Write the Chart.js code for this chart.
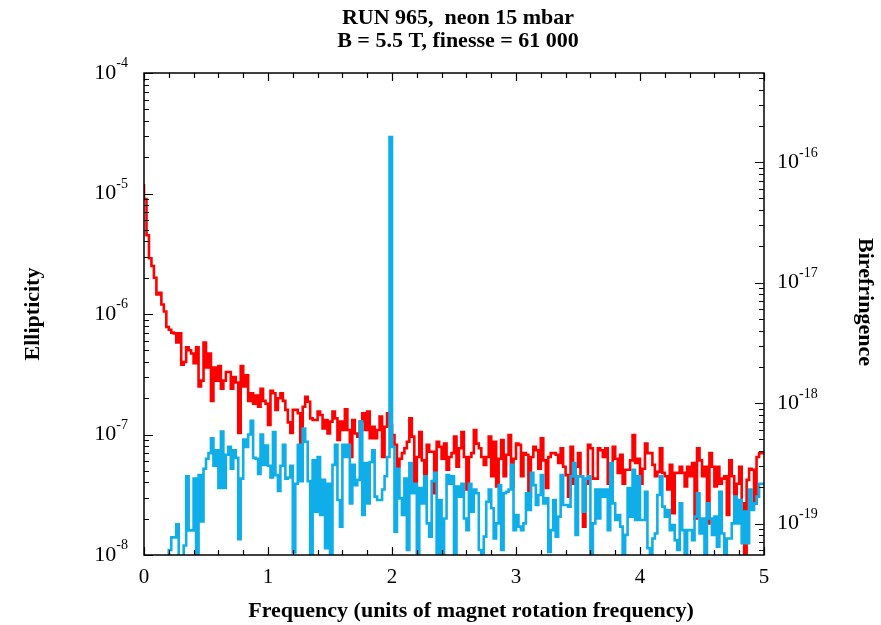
<!DOCTYPE html>
<html>
<head>
<meta charset="utf-8">
<script src="https://cdn.jsdelivr.net/npm/chart.js@4/dist/chart.umd.min.js"></script>
<style>
html,body{margin:0;padding:0;background:#fff;}
#c{display:block;}
</style>
</head>
<body>
<canvas id="c" width="881" height="625"></canvas>
<script>
// ---- data ----
const titleLines = ["RUN 965,  neon 15 mbar", "B = 5.5 T, finesse = 61 000"];
const xTitle = "Frequency (units of magnet rotation frequency)";
const yTitleLeft = "Ellipticity";
const yTitleRight = "Birefringence";
const xTickLabels = ["0", "1", "2", "3", "4", "5"];
const leftExponents = [-8, -7, -6, -5, -4];
const rightExponents = [-19, -18, -17, -16];
const binWidth = 0.02; // frequency resolution (units of rotation frequency)

// red: ellipticity spectrum
const redSpectrum = [
 1.2e-5,9.0e-6,4.5e-6,2.9e-6,2.5e-6,2.0e-6,1.45e-6,1.5e-6,1.2e-6,1.05e-6,
 7.8e-7,7.4e-7,7.0e-7,6.9e-7,5.8e-7,6.9e-7,3.8e-7,4.0e-7,5.3e-7,5.0e-7,
 4.7e-7,3.9e-7,5.3e-7,2.5e-7,2.8e-7,5.8e-7,3.6e-7,4.7e-7,1.9e-7,3.6e-7,
 2.8e-7,3.7e-7,2.4e-7,2.8e-7,3.3e-7,3.3e-7,2.4e-7,3.0e-7,2.7e-7,1.03e-7,
 3.7e-7,2.5e-7,3.1e-7,1.9e-7,2.2e-7,1.8e-7,2.1e-7,1.7e-7,2.4e-7,1.9e-7,
 1.8e-7,1.2e-7,2.3e-7,2.2e-7,1.6e-7,2.0e-7,2.2e-7,1.9e-7,1.6e-7,1.26e-7,
 1.03e-7,1.6e-7,1.6e-7,
 1.5e-7,8.4e-8,1.7e-7,2.06e-7,1.87e-7,1.36e-7,1.32e-7,1.32e-7,1.55e-7,1.45e-7,
 1.12e-7,1.32e-7,1.02e-7,1.28e-7,1.55e-7,1.36e-7,9.0e-8,1.28e-7,1.09e-7,1.62e-7,
 1.09e-7,6.5e-8,1.32e-7,1.02e-7,9.6e-8,1.28e-7,1.5e-7,1.09e-7,1.55e-7,9.3e-8,
 1.16e-7,9.3e-8,1.09e-7,1.41e-7,6.5e-8,1.16e-7,1.5e-7,1.2e-7,
 9.9e-8,8.2e-8,5.4e-8,6.3e-8,7.0e-8,7.7e-8,8.7e-8,1.36e-7,9.6e-8,3.7e-8,
 6.5e-8,1.05e-7,6.1e-8,4.5e-8,8.2e-8,7.2e-8,7.2e-8,3.25e-8,8.7e-8,7.9e-8,
 6.3e-8,8.4e-8,5.1e-8,6.5e-8,
 7.0e-8,9.6e-8,5.4e-8,7.7e-8,1.05e-7,6.5e-8,3.5e-8,6.5e-8,7.0e-8,1.09e-7,
 8.4e-8,7.7e-8,6.5e-8,5.6e-8,6.5e-8,9.6e-8,4.5e-8,8.7e-8,3.7e-8,6.3e-8,
 9.0e-8,4.5e-8,6.8e-8,9.9e-8,3.7e-8,6.3e-8,8.4e-8,8.2e-8,4.5e-8,7.0e-8,
 6.8e-8,3.05e-8,6.5e-8,7.9e-8,7.4e-8,5.2e-8,9.3e-8,6.1e-8,3.6e-8,6.5e-8,
 7.0e-8,7.0e-8,6.8e-8,5.8e-8,7.7e-8,5.4e-8,4.6e-8,3.05e-8,7.9e-8,3.9e-8,
 5.4e-8,7.0e-8,4.5e-8,1.72e-8,3.9e-8,8.2e-8,7.7e-8,4.3e-8,4.3e-8,7.7e-8,
 7.4e-8,6.5e-8,
 7.7e-8,3.9e-8,5.1e-8,7.9e-8,6.3e-8,4.8e-8,6.8e-8,3.9e-8,5.1e-8,5.1e-8,
 6.1e-8,9.9e-8,5.8e-8,6.3e-8,3.9e-8,5.2e-8,8.4e-8,7.0e-8,7.0e-8,5.6e-8,
 4.5e-8,4.9e-8,7.7e-8,4.8e-8,4.5e-8,3.5e-8,5.6e-8,2.22e-8,4.8e-8,4.8e-8,
 5.4e-8,4.8e-8,3.7e-8,5.4e-8,4.5e-8,5.8e-8,2.01e-8,7.7e-8,6.1e-8,4.5e-8,
 5.4e-8,1.83e-8,7.0e-8,5.4e-8,3.7e-8,5.4e-8,3.9e-8,4.3e-8,4.5e-8,2.15e-8,
 6.1e-8,4.5e-8,2.68e-8,3.9e-8,5.4e-8,2.68e-8,8e-9,4.2e-8,5.2e-8,5.1e-8,
 2.68e-8,6.5e-8,7.0e-8
];

// blue: ellipticity spectrum (second trace)
const blueSpectrum = [
 3e-9,3e-9,3e-9,3e-9,3e-9,3e-9,3e-9,3e-9,3e-9,3e-9,
 3e-9,1.1e-8,1.4e-8,1.4e-8,1.8e-8,6e-9,6e-9,1.2e-8,4.5e-8,1.6e-8,
 1.6e-8,4.3e-8,6e-9,4.6e-8,1.9e-8,5.2e-8,6.3e-8,7.0e-8,9.3e-8,5.5e-8,
 7.4e-8,3.6e-8,1.06e-7,3.6e-8,6.8e-8,7.9e-8,5.2e-8,7.4e-8,6.4e-8,1.35e-8,
 4.3e-8,9.1e-8,7.9e-8,1.0e-7,1.3e-7,6.4e-8,6.3e-8,4.7e-8,1.0e-7,5.6e-8,
 8.1e-8,5.5e-8,4.4e-8,1.05e-7,4.6e-8,3.4e-8,5.5e-8,8.2e-8,4.3e-8,4.4e-8,
 5.5e-8,1.05e-8,
 3.9e-8,8.2e-8,4.1e-8,1.12e-7,8.7e-8,4.1e-8,8e-9,6.1e-8,2.29e-8,6.5e-8,
 2.15e-8,4.2e-8,1.14e-8,3.9e-8,1.03e-8,5.6e-8,8.2e-8,2.86e-8,1.72e-8,8.2e-8,
 6.5e-8,8.2e-8,2.68e-8,5.6e-8,3.8e-8,4.2e-8,1.28e-7,2.15e-8,5.8e-8,2.68e-8,
 5.9e-8,7.4e-8,3.05e-8,2.86e-8,2.86e-8,3.5e-8,4.5e-8,6.5e-8,
 2.94e-5,
 7.9e-8,1.56e-8,5.2e-8,2.95e-8,2.15e-8,4.3e-8,1.1e-8,5.8e-8,3.25e-8,3.9e-8,
 8e-9,3.6e-8,2.68e-8,4.5e-8,1.83e-8,1.42e-8,4.1e-8,4.8e-8,8e-9,2.86e-8,
 8e-9,2.01e-8,4.6e-8,3.9e-8,
 4.5e-8,8e-9,3.7e-8,3.05e-8,3.9e-8,2.01e-8,1.61e-8,3.9e-8,2.29e-8,3.5e-8,
 3.25e-8,1.1e-8,1.03e-8,1.42e-8,2.77e-8,3.5e-8,2.44e-8,1.37e-8,1.83e-8,3.8e-8,
 1.1e-8,3.25e-8,3.35e-8,3.5e-8,5.6e-8,1.61e-8,2.15e-8,1.72e-8,1.61e-8,1.83e-8,
 3.25e-8,2.36e-8,4.8e-8,3.8e-8,2.6e-8,3.15e-8,4.6e-8,2.68e-8,2.95e-8,1.06e-8,
 1.61e-8,2.86e-8,1.42e-8,2.08e-8,4.6e-8,2.6e-8,2.6e-8,2.52e-8,4.5e-8,5.8e-8,
 1.47e-8,4.5e-8,4.5e-8,2.29e-8,4.3e-8,4.5e-8,8e-9,1.83e-8,3.5e-8,2.01e-8,
 3.5e-8,3.05e-8,
 3.5e-8,1.61e-8,5.8e-8,2.68e-8,1.95e-8,2.15e-8,1.72e-8,8e-9,1.47e-8,3.6e-8,
 2.08e-8,5.1e-8,1.95e-8,4.5e-8,1.95e-8,1.95e-8,3.35e-8,1.14e-8,8e-9,1.37e-8,
 1.51e-8,3.15e-8,4.5e-8,2.52e-8,2.08e-8,2.36e-8,1.61e-8,1.77e-8,1.33e-8,1.1e-8,
 2.68e-8,1.61e-8,8e-9,1.61e-8,1.61e-8,1.33e-8,2.08e-8,3.25e-8,1.51e-8,2.01e-8,
 8e-9,2.68e-8,2.01e-8,1.47e-8,2.08e-8,1.17e-8,3.35e-8,1.51e-8,8e-9,1.37e-8,
 1.37e-8,1.83e-8,3.05e-8,1.83e-8,2.86e-8,1.25e-8,2.29e-8,1.25e-8,3.5e-8,2.36e-8,
 2.68e-8,3.05e-8,3.9e-8
];

// axis ranges
const xMin = 0, xMax = 5;
const ellipMin = 1e-8, ellipMax = 1e-4;
const biref2ellip = Math.pow(10, -11.26); // birefringence = ellipticity * factor

// ---- build step-histogram points ----
function stepPoints(arr){
  const pts = arr.map((v,i)=>({x: i*binWidth, y: v}));
  pts.push({x: arr.length*binWidth, y: arr[arr.length-1]});
  return pts;
}

const SERIF = '"Liberation Serif","Times New Roman",serif';

function drawPow(ctx, base, exp, x, y, align, baseSize, expSize){
  ctx.font = baseSize + 'px ' + SERIF;
  const bw = ctx.measureText(base).width;
  ctx.font = expSize + 'px ' + SERIF;
  const ew = ctx.measureText(exp).width;
  let x0 = align === 'right' ? x - bw - ew : x;
  ctx.textAlign = 'left';
  ctx.textBaseline = 'middle';
  ctx.font = baseSize + 'px ' + SERIF;
  ctx.fillText(base, x0, y);
  ctx.font = expSize + 'px ' + SERIF;
  ctx.fillText(exp, x0 + bw, y - baseSize*0.42);
}

const framePlugin = {
  id: 'frame',
  afterDraw(chart){
    const {ctx, chartArea: a, scales} = chart;
    const xs = scales.x, ys = scales.y, yr = scales.y2;
    ctx.save();
    ctx.fillStyle = '#000';
    ctx.strokeStyle = '#000';
    ctx.lineWidth = 1.5;
    ctx.strokeRect(a.left, a.top, a.right - a.left, a.bottom - a.top);
    ctx.lineWidth = 1.2;
    ctx.beginPath();
    for (let k = 0; k <= 25; k++){
      const v = k*0.2;
      const px = Math.round(xs.getPixelForValue(v)) + 0.5;
      const len = (k % 5 === 0) ? 8 : 5;
      ctx.moveTo(px, a.bottom); ctx.lineTo(px, a.bottom - len);
      ctx.moveTo(px, a.top); ctx.lineTo(px, a.top + len);
    }
    for (let d = -8; d <= -4; d++){
      for (let m = 1; m <= 9; m++){
        const v = m * Math.pow(10, d);
        if (v > ellipMax*1.0001) break;
        const py = Math.round(ys.getPixelForValue(v)) + 0.5;
        const len = m === 1 ? 9 : 5;
        ctx.moveTo(a.left, py); ctx.lineTo(a.left + len, py);
      }
    }
    for (let d = -20; d <= -16; d++){
      for (let m = 1; m <= 9; m++){
        const v = m * Math.pow(10, d);
        if (v < yr.min*0.9999 || v > yr.max*1.0001) continue;
        const py = Math.round(yr.getPixelForValue(v)) + 0.5;
        const len = m === 1 ? 9 : 5;
        ctx.moveTo(a.right, py); ctx.lineTo(a.right - len, py);
      }
    }
    ctx.stroke();

    ctx.font = '21px ' + SERIF;
    ctx.textAlign = 'center';
    ctx.textBaseline = 'middle';
    xTickLabels.forEach((t,i)=>{
      ctx.fillText(t, xs.getPixelForValue(i), a.bottom + 22);
    });
    leftExponents.forEach(e=>{
      const py = ys.getPixelForValue(Math.pow(10,e));
      drawPow(ctx, '10', '-' + Math.abs(e), a.left - 16, py, 'right', 22, 14);
    });
    rightExponents.forEach(e=>{
      const py = yr.getPixelForValue(Math.pow(10,e));
      drawPow(ctx, '10', '-' + Math.abs(e), a.right + 13, py, 'left', 22, 14);
    });

    ctx.font = 'bold 22px ' + SERIF;
    ctx.textAlign = 'center';
    ctx.textBaseline = 'middle';
    ctx.fillText(titleLines[0], 458, 18);
    ctx.fillText(titleLines[1], 458, 41);
    ctx.fillText(xTitle, 471, 611);
    ctx.save();
    ctx.translate(33, 314);
    ctx.rotate(-Math.PI/2);
    ctx.fillText(yTitleLeft, 0, 0);
    ctx.restore();
    ctx.save();
    ctx.translate(865, 302);
    ctx.rotate(Math.PI/2);
    ctx.fillText(yTitleRight, 0, 0);
    ctx.restore();
    ctx.restore();
  }
};

new Chart(document.getElementById('c'), {
  type: 'line',
  data: {
    datasets: [
      {
        label: 'blue',
        data: stepPoints(blueSpectrum),
        borderColor: '#10aee8',
        borderWidth: 2.6,
        stepped: 'after',
        pointRadius: 0,
        fill: false,
        clip: 0,
        order: 0,
        yAxisID: 'y'
      },
      {
        label: 'red',
        data: stepPoints(redSpectrum),
        borderColor: '#ff0000',
        borderWidth: 2.6,
        stepped: 'after',
        pointRadius: 0,
        fill: false,
        clip: 0,
        order: 1,
        yAxisID: 'y'
      }
    ]
  },
  options: {
    responsive: false,
    animation: false,
    devicePixelRatio: 1,
    layout: { padding: { left: 144, right: 117, top: 73, bottom: 70 } },
    plugins: { legend: { display: false }, tooltip: { enabled: false }, title: { display: false } },
    scales: {
      x: { type: 'linear', min: xMin, max: xMax, display: false },
      y: { type: 'logarithmic', min: ellipMin, max: ellipMax, display: false },
      y2: { type: 'logarithmic', position: 'right', min: ellipMin*biref2ellip, max: ellipMax*biref2ellip, display: false }
    }
  },
  plugins: [framePlugin]
});
</script>
</body>
</html>
